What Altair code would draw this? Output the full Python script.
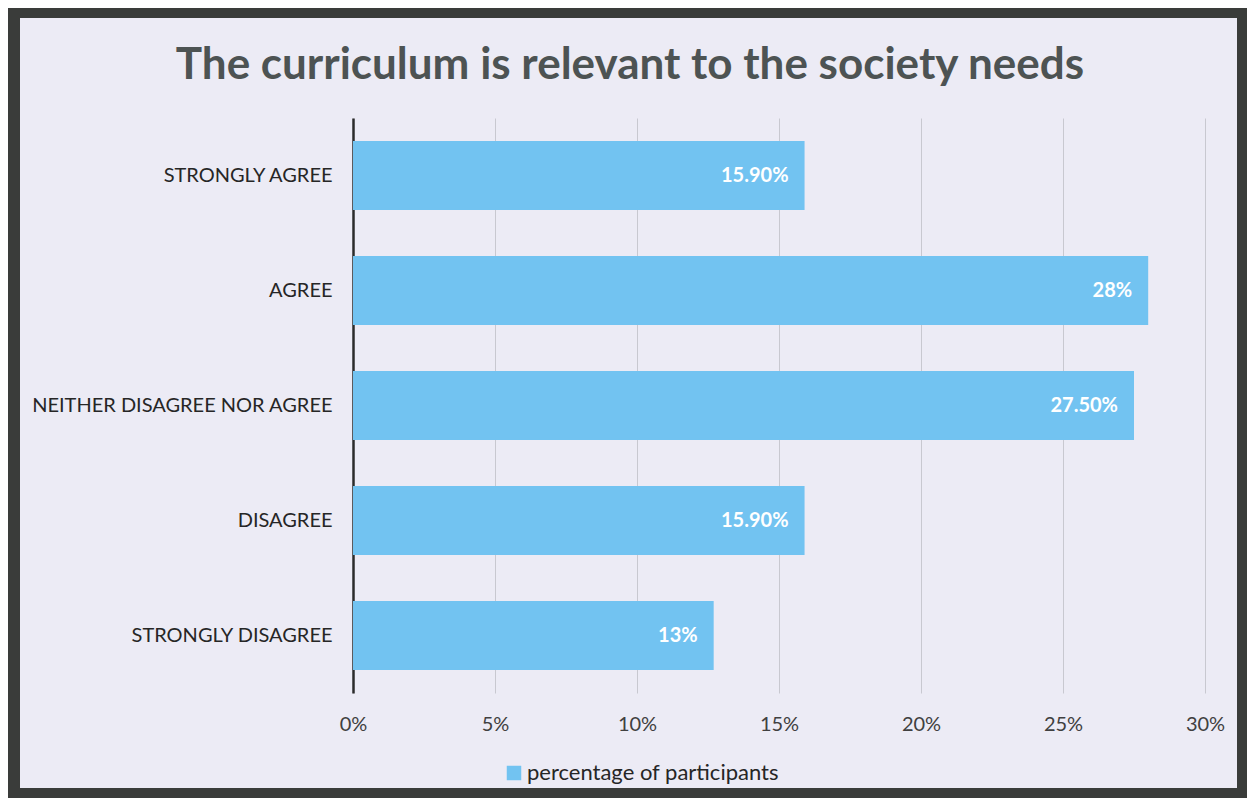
import altair as alt
import pandas as pd

categories = ["STRONGLY AGREE", "AGREE", "NEITHER DISAGREE NOR AGREE", "DISAGREE", "STRONGLY DISAGREE"]
values = [15.9, 28.0, 27.5, 15.9, 12.7]
value_labels = ["15.90%", "28%", "27.50%", "15.90%", "13%"]
series_name = "percentage of participants"
x_ticks = [0, 5, 10, 15, 20, 25, 30]

TITLE = "The curriculum is relevant to the society needs"
FONT = "Lato"
BLUE = "#72c3f1"
LAVENDER = "#ecebf5"
DARK = "#3a3c3a"

df = pd.DataFrame({
    "category": categories,
    "value": values,
    "label": value_labels,
    "series": [series_name] * len(categories),
})

W, H = 852, 575

frame = alt.Chart(pd.DataFrame({"a": [0]})).mark_rect(
    filled=False, stroke=DARK, strokeWidth=12, clip=False
).encode(
    x=alt.value(-339), x2=alt.value(890), y=alt.value(-106), y2=alt.value(676)
)

y_enc = alt.Y(
    "category:N",
    sort=categories,
    scale=alt.Scale(paddingInner=0.4, paddingOuter=0.2),
    axis=alt.Axis(
        title=None, ticks=False, domain=True, domainColor="#2b2b2b", domainWidth=2.5,
        labelFont=FONT, labelFontSize=20, labelColor="#262626", labelPadding=21,
        grid=False, labelLimit=400,
    ),
)
x_enc = alt.X(
    "value:Q",
    scale=alt.Scale(domain=[0, 30], nice=False, zero=True),
    axis=alt.Axis(
        title=None, values=x_ticks, labelExpr="datum.value + '%'", domain=False, ticks=False,
        grid=True, gridColor="#c8c8d0", gridWidth=1, labelFlush=False,
        labelFont=FONT, labelFontSize=20, labelColor="#404040", labelPadding=21,
    ),
)

bars = alt.Chart(df).mark_bar(size=69).encode(
    x=x_enc,
    y=y_enc,
    color=alt.Color(
        "series:N",
        scale=alt.Scale(range=[BLUE]),
        legend=alt.Legend(
            title=None, orient="none", legendX=150, legendY=644, symbolType="square",
            symbolSize=210, symbolStrokeWidth=0, labelFont=FONT, labelFontSize=22,
            labelColor="#262626", padding=0, labelOffset=2, labelLimit=400,
        ),
    ),
)

texts = alt.Chart(df).mark_text(
    align="right", baseline="middle", dx=-16, font=FONT, fontSize=20,
    fontWeight="bold", color="white",
).encode(
    x="value:Q",
    y=alt.Y("category:N", sort=categories),
    text="label:N",
)

chart = alt.layer(bars, texts, frame).properties(
    width=W, height=H,
    title=alt.TitleParams(
        TITLE, font=FONT, fontSize=44, fontWeight="bold", color="#4d5353",
        anchor="middle", frame="group", dx=-149, baseline="alphabetic", offset=0, dy=117,
    ),
    autosize=alt.AutoSizeParams(type="none"),
    padding={"left": 345, "top": 110, "right": 42, "bottom": 105},
    background=LAVENDER,
).configure_view(stroke=None)

chart.save("out.html", embed_options={"renderer": "svg", "actions": False})
